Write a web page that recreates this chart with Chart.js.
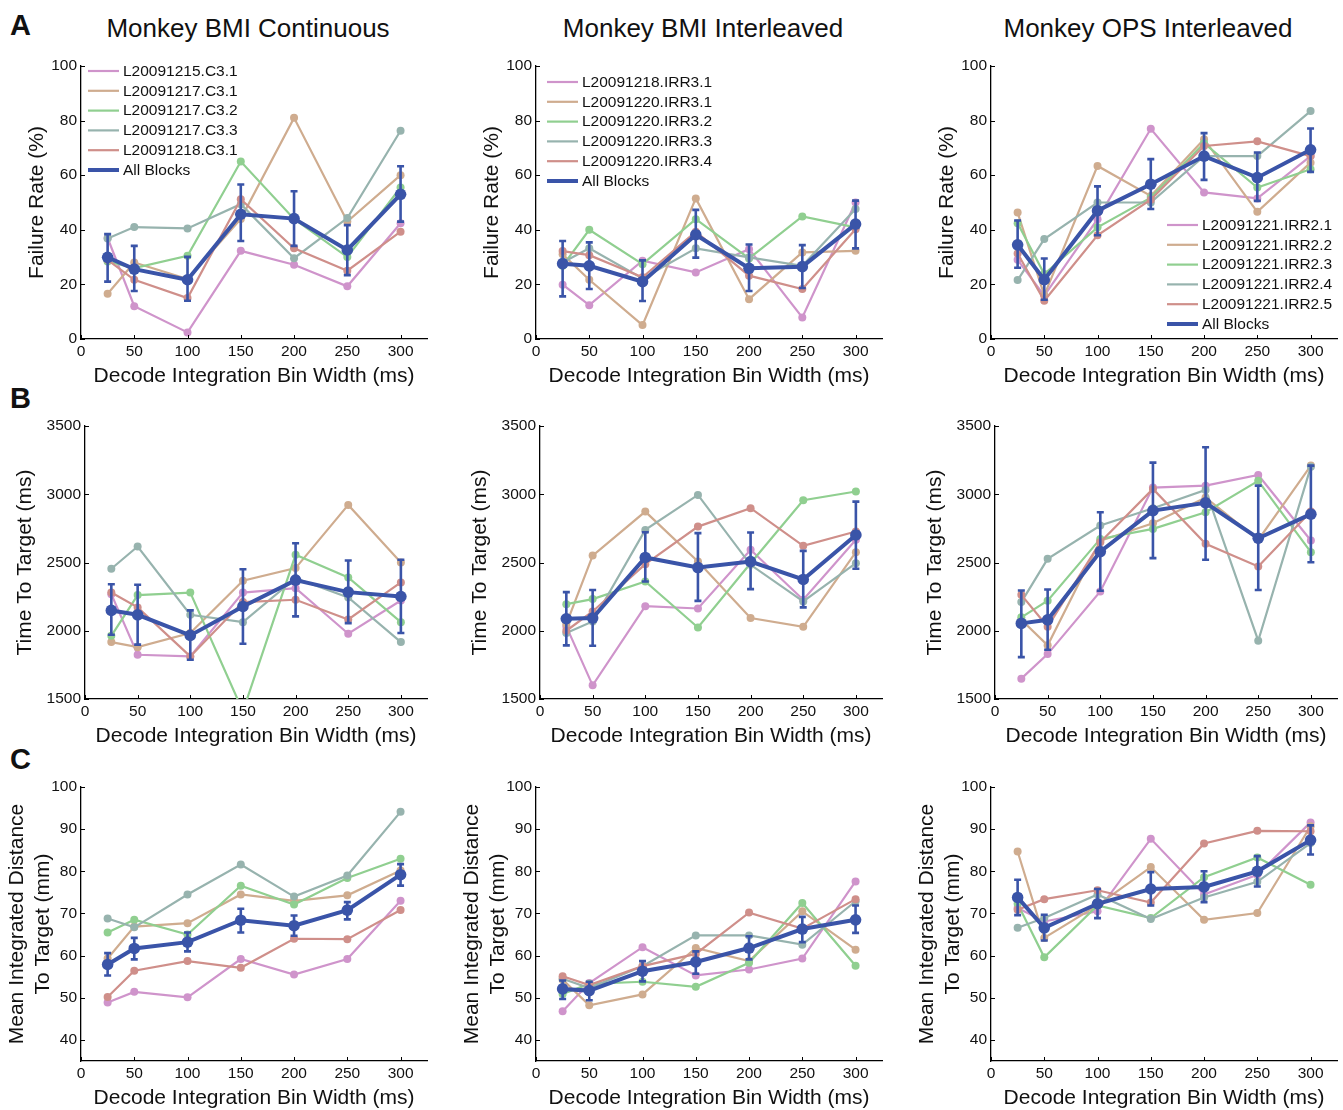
<!DOCTYPE html>
<html>
<head>
<meta charset="utf-8">
<script src="https://cdn.jsdelivr.net/npm/chart.js@4.4.1/dist/chart.umd.min.js"></script>
<style>
  body{margin:0;background:#fff;width:1343px;height:1110px;position:relative;overflow:hidden;
       font-family:"Liberation Sans",Arial,Helvetica,sans-serif;color:#111}
  canvas{position:absolute}
  .letter{position:absolute;font-weight:bold;font-size:29px;line-height:29px}
  .ttl{position:absolute;font-size:26px;line-height:26px;white-space:nowrap;transform:translateX(-50%)}
</style>
</head>
<body>
<div class="letter" style="left:10px;top:11px">A</div>
<div class="letter" style="left:10px;top:384px">B</div>
<div class="letter" style="left:10px;top:745px">C</div>
<div class="ttl" style="left:248px;top:15px">Monkey BMI Continuous</div>
<div class="ttl" style="left:703px;top:15px">Monkey BMI Interleaved</div>
<div class="ttl" style="left:1148px;top:15px">Monkey OPS Interleaved</div>

<script>
// ---- data ----
const binWidths = [25, 50, 100, 150, 200, 250, 300];
const xTicks = [0, 50, 100, 150, 200, 250, 300];
const failTicks = [0, 20, 40, 60, 80, 100];
const timeTicks = [1500, 2000, 2500, 3000, 3500];
const distTicks = [40, 50, 60, 70, 80, 90, 100];

const contBlocks = ['L20091215.C3.1', 'L20091217.C3.1', 'L20091217.C3.2', 'L20091217.C3.3', 'L20091218.C3.1'];
const bmiIrrBlocks = ['L20091218.IRR3.1', 'L20091220.IRR3.1', 'L20091220.IRR3.2', 'L20091220.IRR3.3', 'L20091220.IRR3.4'];
const opsIrrBlocks = ['L20091221.IRR2.1', 'L20091221.IRR2.2', 'L20091221.IRR2.3', 'L20091221.IRR2.4', 'L20091221.IRR2.5'];

// A: failure rate (%)
const failCont = [
  [37, 12, 2.4, 32.3, 27.2, 19.3, 42.4],
  [16.6, 28, 22, 44, 81, 43, 60],
  [28.4, 26, 30.5, 65, 44, 30, 55.5],
  [36.8, 41, 40.5, 49.4, 29.6, 44.3, 76.3],
  [29, 21.7, 15, 51.2, 33.2, 25, 39.3]
];
const failContMean = [29.9, 25.6, 21.7, 45.7, 44.1, 32.6, 53];
const failContLo = [21, 17.6, 14, 35.9, 34.1, 23.4, 43];
const failContHi = [38.4, 34.1, 30.1, 56.6, 54.1, 41.7, 63.3];

const failBmiIrr = [
  [19.9, 12.4, 28.7, 24.4, 32.9, 7.9, 50],
  [31, 21.7, 5.1, 51.5, 14.6, 31.7, 32.3],
  [26.8, 40, 27.4, 43.9, 29.5, 44.9, 40.9],
  [28, 33.2, 22.2, 33.2, 29.9, 26.8, 47.6],
  [32.2, 30.7, 22.6, 39.3, 23.2, 18.3, 40.2]
];
const failBmiIrrMean = [27.6, 26.8, 21, 38.2, 25.9, 26.5, 42.1];
const failBmiIrrLo = [15.6, 18.3, 13.9, 29.8, 17.6, 18.7, 33.2];
const failBmiIrrHi = [35.9, 35.4, 28.8, 47.3, 34.6, 34.4, 50.7];

const failOpsIrr = [
  [29, 15.9, 43.9, 77, 53.7, 51.5, 67],
  [46.3, 16, 63.4, 52.4, 73.2, 46.6, 64.6],
  [42.4, 23.8, 40.9, 51.8, 71.7, 55.5, 62.2],
  [21.6, 36.6, 50, 50, 67, 67, 83.5],
  [31.3, 14, 38, 51, 70.7, 72.4, 67]
];
const failOpsIrrMean = [34.5, 21.7, 47, 56.7, 67, 59.1, 69.3];
const failOpsIrrLo = [26.1, 14.4, 38, 47.6, 58.3, 50.6, 61.2];
const failOpsIrrHi = [43.4, 29.5, 55.9, 65.9, 75.4, 68.3, 77.1];

// B: time to target (ms)
const timeCont = [
  [2268, 1824, 1812, 2280, 2312, 1978, 2222],
  [1917, 1880, 1983, 2366, 2459, 2922, 2500],
  [1963, 2261, 2280, 1410, 2556, 2390, 2063],
  [2454, 2617, 2117, 2063, 2385, 2244, 1917],
  [2280, 2171, 1812, 2210, 2227, 2083, 2354]
];
const timeContMean = [2149, 2117, 1966, 2178, 2371, 2283, 2251];
const timeContLo = [1971, 1898, 1788, 1905, 2105, 2056, 1983];
const timeContHi = [2341, 2337, 2149, 2451, 2641, 2515, 2520];

const timeBmiIrr = [
  [2032, 1600, 2180, 2163, 2593, 2227, 2666],
  [2049, 2551, 2873, 2507, 2093, 2029, 2576],
  [2195, 2232, 2361, 2024, 2495, 2956, 3020],
  [1983, 2068, 2739, 2995, 2483, 2215, 2495],
  [2000, 2141, 2488, 2763, 2898, 2622, 2727]
];
const timeBmiIrrMean = [2088, 2093, 2537, 2463, 2507, 2376, 2702];
const timeBmiIrrLo = [1893, 1890, 2361, 2219, 2305, 2171, 2454];
const timeBmiIrrHi = [2283, 2298, 2722, 2715, 2720, 2585, 2946];

const timeOpsIrr = [
  [1649, 1829, 2288, 3049, 3063, 3141, 2661],
  [2080, 1893, 2659, 2788, 2976, 2666, 3210],
  [2098, 2220, 2673, 2746, 2868, 3098, 2576],
  [2210, 2527, 2771, 2898, 3032, 1927, 3202],
  [2263, 2029, 2649, 3039, 2637, 2471, 2873]
];
const timeOpsIrrMean = [2054, 2080, 2580, 2880, 2937, 2678, 2854];
const timeOpsIrrLo = [1807, 1861, 2293, 2532, 2520, 2298, 2502];
const timeOpsIrrHi = [2295, 2302, 2868, 3232, 3344, 3063, 3210];

// C: mean integrated distance to target (mm)
const distCont = [
  [48.9, 51.4, 50.1, 59.2, 55.5, 59.2, 73],
  [59.3, 66.9, 67.7, 74.5, 73, 74.3, 80.2],
  [65.5, 68.5, 65, 76.6, 72.1, 78.4, 83],
  [68.8, 66.7, 74.5, 81.6, 74, 79, 94.1],
  [50.2, 56.4, 58.7, 57.1, 64, 63.9, 70.8]
];
const distContMean = [57.9, 61.7, 63.2, 68.4, 67.1, 70.8, 79.2];
const distContLo = [55.3, 59.1, 61, 65.5, 64.7, 68.6, 76.6];
const distContHi = [60.6, 64.2, 65.5, 71.1, 69.5, 72.7, 81.7];

const distBmiIrr = [
  [46.8, 53.5, 62, 55.3, 56.7, 59.3, 77.6],
  [54.3, 48.2, 50.8, 61.8, 58.7, 70.5, 61.4],
  [50.9, 53.3, 53.8, 52.6, 58.3, 72.5, 57.6],
  [54.5, 52.3, 57.5, 64.8, 64.8, 62.6, 72.9],
  [55.1, 53, 57.5, 60.4, 70.2, 66.4, 73.4]
];
const distBmiIrrMean = [52.1, 51.7, 56.3, 58.5, 61.8, 66.3, 68.5];
const distBmiIrrLo = [49.7, 49.4, 53.9, 55.7, 59.1, 63.2, 65.4];
const distBmiIrrHi = [54.1, 53.8, 58.7, 61, 64.6, 69.2, 71.9];

const distOpsIrr = [
  [71.3, 68.1, 70.5, 87.7, 74.5, 79.2, 91.6],
  [84.7, 64.2, 71.9, 81, 68.5, 70.1, 90.7],
  [72.3, 59.6, 71.9, 68.9, 78.6, 83.3, 76.8],
  [66.6, 68.9, 74.5, 68.7, 73.8, 77.5, 86.7],
  [70.9, 73.4, 75.5, 72.6, 86.6, 89.6, 89.5]
];
const distOpsIrrMean = [73.8, 66.6, 72.3, 75.8, 76.3, 80, 87.4];
const distOpsIrrLo = [69.6, 63.6, 68.9, 71.9, 72.7, 76.4, 84];
const distOpsIrrHi = [78, 69.7, 75.8, 79.8, 80, 83.6, 90.9];

// ---- styling / layout ----
const FONT = '"Liberation Sans", Arial, Helvetica, sans-serif';
const runColors = ['#cf94cb', '#cfac8f', '#90cf90', '#97b3ae', '#cf8f8a'];
const meanColor = '#3a54a8';

Chart.defaults.font.family = FONT;
Chart.defaults.color = '#111';

// plot-area rectangles of the three rows / columns (page pixels)
const rows = [
  { top: 66, bottom: 339, left: [81, 536, 991], yBox: 81, titlePad: 25, min: 0, max: 100, ticks: failTicks,
    title: 'Failure Rate (%)' },
  { top: 426, bottom: 699, left: [85, 540, 995], yBox: 85, titlePad: 13, min: 1500, max: 3500, ticks: timeTicks,
    title: 'Time To Target (ms)' },
  { top: 787, bottom: 1061, left: [81, 536, 991], yBox: 81, titlePad: 5, min: 35, max: 100, ticks: distTicks,
    title: ['Mean Integrated Distance', 'To Target (mm)'] }
];
const rights = [430, 885, 1340];
const legendAt = [[7, 5], [11, 16], [176, 159]];

const panels = [
  [failCont, failContMean, failContLo, failContHi, contBlocks],
  [failBmiIrr, failBmiIrrMean, failBmiIrrLo, failBmiIrrHi, bmiIrrBlocks],
  [failOpsIrr, failOpsIrrMean, failOpsIrrLo, failOpsIrrHi, opsIrrBlocks],
  [timeCont, timeContMean, timeContLo, timeContHi, contBlocks],
  [timeBmiIrr, timeBmiIrrMean, timeBmiIrrLo, timeBmiIrrHi, bmiIrrBlocks],
  [timeOpsIrr, timeOpsIrrMean, timeOpsIrrLo, timeOpsIrrHi, opsIrrBlocks],
  [distCont, distContMean, distContLo, distContHi, contBlocks],
  [distBmiIrr, distBmiIrrMean, distBmiIrrLo, distBmiIrrHi, bmiIrrBlocks],
  [distOpsIrr, distOpsIrrMean, distOpsIrrLo, distOpsIrrHi, opsIrrBlocks]
];

// ---- plugins ----
const errorBars = {
  id: 'errorBars',
  beforeDatasetDraw(chart, args) {
    const ds = chart.data.datasets[args.index];
    if (!ds.errLo) return;
    const { ctx } = chart, xs = chart.scales.x, ys = chart.scales.y;
    ctx.save();
    ctx.strokeStyle = ds.borderColor;
    ctx.lineWidth = 2.6;
    ctx.beginPath();
    ds.data.forEach((p, i) => {
      const px = xs.getPixelForValue(p.x);
      const y1 = ys.getPixelForValue(ds.errLo[i]), y2 = ys.getPixelForValue(ds.errHi[i]);
      ctx.moveTo(px, y1); ctx.lineTo(px, y2);
      ctx.moveTo(px - 3.5, y1); ctx.lineTo(px + 3.5, y1);
      ctx.moveTo(px - 3.5, y2); ctx.lineTo(px + 3.5, y2);
    });
    ctx.stroke();
    ctx.restore();
  }
};

const inwardTicks = {
  id: 'inwardTicks',
  afterDraw(chart) {
    const { ctx, chartArea: a } = chart, xs = chart.scales.x, ys = chart.scales.y;
    ctx.save();
    ctx.strokeStyle = '#000';
    ctx.lineWidth = 1;
    ctx.beginPath();
    xs.ticks.forEach(t => {
      const px = Math.round(xs.getPixelForValue(t.value)) + 0.5;
      ctx.moveTo(px, a.bottom); ctx.lineTo(px, a.bottom - 4);
    });
    ys.ticks.forEach(t => {
      const py = Math.round(ys.getPixelForValue(t.value)) + 0.5;
      ctx.moveTo(a.left, py); ctx.lineTo(a.left + 4, py);
    });
    ctx.stroke();
    ctx.restore();
  }
};

const insideLegend = {
  id: 'insideLegend',
  afterDraw(chart, args, opts) {
    if (!opts.at) return;
    const { ctx, chartArea: a } = chart;
    const x0 = a.left + opts.at[0], y0 = a.top + opts.at[1];
    ctx.save();
    ctx.font = '15.5px ' + FONT;
    ctx.textBaseline = 'middle';
    chart.data.datasets.forEach((ds, i) => {
      const y = y0 + i * 19.8;
      ctx.strokeStyle = ds.borderColor;
      ctx.lineWidth = ds.borderWidth;
      ctx.beginPath(); ctx.moveTo(x0, y); ctx.lineTo(x0 + 31, y); ctx.stroke();
      ctx.fillStyle = '#111';
      ctx.fillText(ds.label, x0 + 35, y + 0.5);
    });
    ctx.restore();
  }
};

// ---- build the 9 panels ----
const PAD_TOP = 14, PAD_RIGHT = 3, X_BOX = 50;

panels.forEach((p, k) => {
  const r = rows[Math.floor(k / 3)], c = k % 3;
  const [runs, mean, lo, hi, blocks] = p;
  const left = r.left[c], right = rights[c];

  const cv = document.createElement('canvas');
  const w = r.yBox + (right - left) + PAD_RIGHT, h = PAD_TOP + (r.bottom - r.top) + X_BOX;
  cv.width = w; cv.height = h;
  cv.style.left = (left - r.yBox) + 'px';
  cv.style.top = (r.top - PAD_TOP) + 'px';
  document.body.appendChild(cv);

  const pts = arr => binWidths.map((x, i) => ({ x, y: arr[i] }));
  const datasets = runs.map((arr, i) => ({
    label: blocks[i], data: pts(arr), borderColor: runColors[i], backgroundColor: runColors[i],
    borderWidth: 2.2, pointRadius: 4, pointBorderWidth: 0, order: 6 - i
  }));
  datasets.push({
    label: 'All Blocks', data: pts(mean), errLo: lo, errHi: hi,
    borderColor: meanColor, backgroundColor: meanColor,
    borderWidth: 4, pointRadius: 5.8, pointBorderWidth: 0, order: 0
  });

  new Chart(cv, {
    type: 'line',
    data: { datasets },
    options: {
      responsive: false, animation: false, devicePixelRatio: 1,
      layout: { padding: { left: 0, top: PAD_TOP, right: PAD_RIGHT, bottom: 0 } },
      plugins: {
        legend: { display: false }, tooltip: { enabled: false },
        insideLegend: { at: k < 3 ? legendAt[c] : null }
      },
      scales: {
        x: {
          type: 'linear', min: 0, max: 325,
          afterBuildTicks: s => { s.ticks = xTicks.map(v => ({ value: v })); },
          afterFit: s => { s.height = X_BOX; },
          grid: { display: false, drawTicks: false },
          border: { display: true, color: '#000', width: 1.3 },
          ticks: { font: { size: 15.5 }, padding: 3, color: '#111', maxRotation: 0, callback: v => String(v) },
          title: { display: true, text: 'Decode Integration Bin Width (ms)', font: { size: 21 }, color: '#111',
                   padding: { top: 0, bottom: 0 } }
        },
        y: {
          min: r.min, max: r.max,
          afterBuildTicks: s => { s.ticks = r.ticks.map(v => ({ value: v })); },
          afterFit: s => { s.width = r.yBox; },
          grid: { display: false, drawTicks: false },
          border: { display: true, color: '#000', width: 1.3 },
          ticks: { font: { size: 15.5 }, padding: 4, color: '#111', callback: v => String(v) },
          title: { display: true, text: r.title, font: { size: 21, lineHeight: 1.2 }, color: '#111',
                   padding: { top: r.titlePad, bottom: 0 } }
        }
      }
    },
    plugins: [errorBars, inwardTicks, insideLegend]
  });
});
</script>
</body>
</html>
